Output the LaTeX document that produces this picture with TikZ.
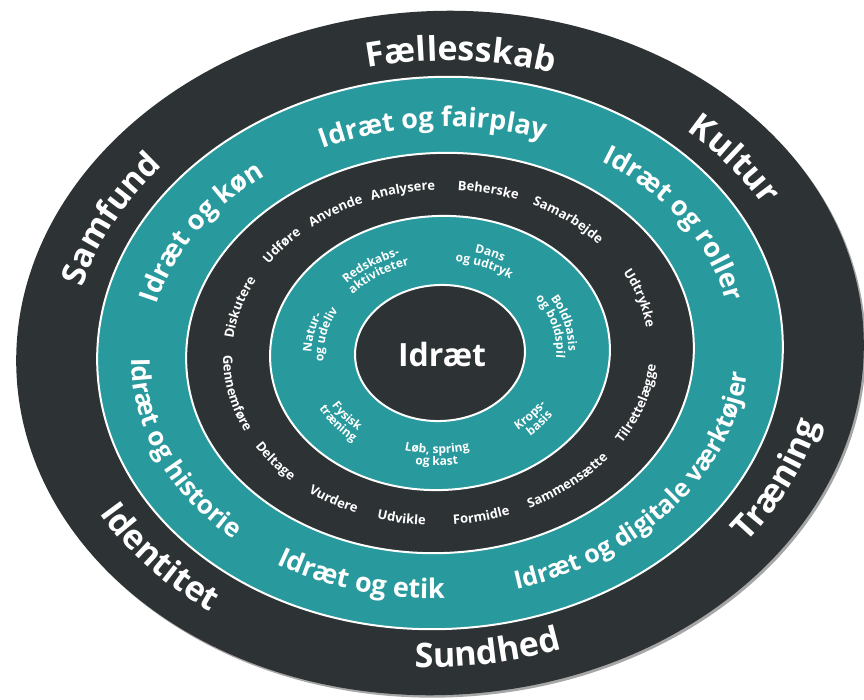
\documentclass[tikz,border=0pt]{standalone}
\usepackage{fontspec}
\setmainfont{Open Sans}
\usetikzlibrary{decorations.text}
\definecolor{ringdark}{HTML}{2D3234}
\definecolor{ringteal}{HTML}{28999D}
\tikzset{
  ringline/.style={draw=white, line width=2pt},
}
% #1 rx, #2 ry, #3 centre angle, #4 half span, #5 font size, #6 text
\newcommand\TopTxt[6]{%
  \path[decoration={text along path, text align=center,
      text={|\fontsize{#5}{#5}\selectfont\bfseries\color{white}|#6}}, decorate]
    ({#3+#4}:{#1pt} and {#2pt}) arc[start angle={#3+#4}, end angle={#3-#4}, x radius={#1pt}, y radius={#2pt}];}
\newcommand\BotTxt[6]{%
  \path[decoration={text along path, text align=center,
      text={|\fontsize{#5}{#5}\selectfont\bfseries\color{white}|#6}}, decorate]
    ({#3-#4}:{#1pt} and {#2pt}) arc[start angle={#3-#4}, end angle={#3+#4}, x radius={#1pt}, y radius={#2pt}];}
\begin{document}
\begin{tikzpicture}
\useasboundingbox (-440pt,-346pt) rectangle (424pt,353pt);
\begin{scope}[rotate=3]
  % rings
  \fill[black!35] (2pt,-2.5pt) ellipse[x radius=424pt, y radius=342pt];
  \fill[ringdark] (0,0) ellipse[x radius=424pt, y radius=342pt];
  \filldraw[fill=ringteal, ringline] (0,0) ellipse[x radius=343pt, y radius=276pt];
  \filldraw[fill=ringdark, ringline] (0,0) ellipse[x radius=254pt, y radius=200pt];
  \filldraw[fill=ringteal, ringline] (0,0) ellipse[x radius=170pt, y radius=137pt];
  \filldraw[fill=ringdark, ringline] (0,0) ellipse[x radius=85pt, y radius=68pt];
  % outer ring
  \TopTxt{369}{292}{84}{35}{34}{Fællesskab}
  \TopTxt{369}{292}{35}{25}{34}{Kultur}
  \BotTxt{391}{314}{-28}{25}{34}{Træning}
  \BotTxt{391}{314}{-85}{30}{34}{Sundhed}
  \BotTxt{391}{314}{218}{30}{34}{Identitet}
  \TopTxt{369}{292}{151}{30}{33}{Samfund}
  % outer teal ring
  \TopTxt{292}{226}{89}{40}{27}{Idræt og fairplay}
  \TopTxt{292}{226}{30}{38}{27}{Idræt og roller}
  \BotTxt{309}{245}{-41}{55}{25}{Idræt og digitale værktøjer}
  \BotTxt{309}{245}{251}{38}{27}{Idræt og etik}
  \BotTxt{309}{245}{200}{45}{26}{Idræt og historie}
  \TopTxt{292}{226}{146}{38}{27}{Idræt og køn}
  % verbs ring
  \TopTxt{208}{163}{161}{22}{13}{Diskutere}
  \TopTxt{208}{163}{137}{20}{13}{Udføre}
  \TopTxt{208}{163}{118}{20}{13}{Anvende}
  \TopTxt{208}{163}{98}{20}{13}{Analysere}
  \TopTxt{208}{163}{74}{20}{13}{Beherske}
  \TopTxt{208}{163}{49}{22}{13}{Samarbejde}
  \TopTxt{208}{163}{15}{22}{13}{Udtrykke}
  \BotTxt{217}{172}{-21}{25}{13}{Tilrettelægge}
  \BotTxt{217}{172}{-54}{25}{13}{Sammensætte}
  \BotTxt{217}{172}{-81}{20}{13}{Formidle}
  \BotTxt{217}{172}{257}{20}{13}{Udvikle}
  \BotTxt{217}{172}{237}{20}{13}{Vurdere}
  \BotTxt{217}{172}{216}{20}{13}{Deltage}
  \BotTxt{217}{172}{190}{25}{13}{Gennemføre}
  % inner teal ring
  \TopTxt{128.5}{103.5}{121}{30}{12}{Redskabs-}
  \TopTxt{116.5}{91.5}{121}{35}{12}{aktiviteter}
  \TopTxt{128.5}{103.5}{64}{30}{12}{Dans}
  \TopTxt{116.5}{91.5}{64}{35}{12}{og udtryk}
  \TopTxt{128.5}{103.5}{12}{35}{12}{Boldbasis}
  \TopTxt{116.5}{91.5}{12}{40}{12}{og boldspil}
  \BotTxt{125.5}{100.5}{-43}{30}{12}{Krops-}
  \BotTxt{137.5}{112.5}{-43}{30}{12}{basis}
  \BotTxt{125.5}{100.5}{-94}{35}{12}{Løb, spring}
  \BotTxt{137.5}{112.5}{-94}{30}{12}{og kast}
  \BotTxt{125.5}{100.5}{216}{30}{12}{Fysisk}
  \BotTxt{137.5}{112.5}{216}{30}{12}{træning}
  \TopTxt{128.5}{103.5}{166}{30}{12}{Natur-}
  \TopTxt{116.5}{91.5}{166}{35}{12}{og udeliv}
\end{scope}
\node[font=\fontsize{32}{32}\selectfont\bfseries, text=white] (centre) at (2pt,-1pt) {Idræt};
\end{tikzpicture}
\end{document}
